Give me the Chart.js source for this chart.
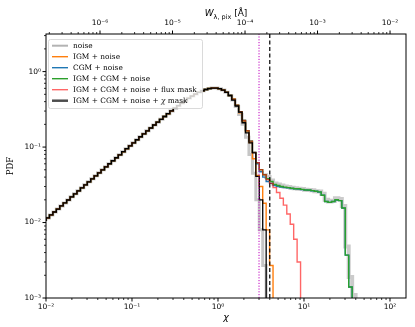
<!DOCTYPE html>
<html>
<head>
<meta charset="utf-8">
<script src="https://cdn.jsdelivr.net/npm/chart.js@4"></script>
<style>
  html, body { margin: 0; padding: 0; background: #fff; }
</style>
</head>
<body>
<canvas id="pdfChart" width="415" height="327"></canvas>
<script>
// histogram bins in log10(chi): first edge and width
var logChiStart = -2;
var logChiStep = 0.04;

// bins 0..54, common to every curve
var pdfCore = [
    0.0105, 0.0115, 0.0126, 0.0138, 0.0151, 0.0166, 0.0182, 0.0199, 0.0219, 0.0240,
    0.0263, 0.0288, 0.0316, 0.0346, 0.0379, 0.0416, 0.0456, 0.0500, 0.0548, 0.0601,
    0.0659, 0.0722, 0.0790, 0.0868, 0.0951, 0.104, 0.114, 0.125, 0.137, 0.150,
    0.164, 0.179, 0.196, 0.214, 0.233, 0.254, 0.277, 0.301, 0.327, 0.354,
    0.382, 0.412, 0.442, 0.473, 0.502, 0.531, 0.558, 0.579, 0.596, 0.605,
    0.605, 0.594, 0.570, 0.532, 0.482
];

// tails, starting at bin 55
var noiseTail = [0.42, 0.345, 0.27, 0.20, 0.135, 0.08, 0.045, 0.020, 0.008, 0.0027, 0];
var igmTail = [0.43, 0.355, 0.285, 0.22, 0.16, 0.115, 0.07, 0.042, 0.03, 0.018, 0.008, 0.0027, 0];
var cgmTail = [0.425, 0.355, 0.29, 0.225, 0.165, 0.12, 0.085, 0.06, 0.047, 0.04,
    0.035, 0.033, 0.031, 0.030, 0.0295, 0.029, 0.0288, 0.0283, 0.028, 0.0278,
    0.0273, 0.027, 0.0268, 0.0263, 0.026, 0.0253, 0.023, 0.019, 0.0185, 0.019,
    0.0198, 0.0195, 0.0155, 0.0037, 0.0014, 0];
var igmCgmTail = [0.43, 0.36, 0.295, 0.225, 0.165, 0.12, 0.085, 0.062, 0.05, 0.043,
    0.038, 0.035, 0.032, 0.031, 0.030, 0.0295, 0.029, 0.0285, 0.028, 0.028,
    0.0275, 0.027, 0.027, 0.0265, 0.026, 0.0255, 0.023, 0.019, 0.0185, 0.019,
    0.020, 0.0195, 0.0156, 0.0037, 0.0014, 0];
var fluxMaskTail = [0.43, 0.36, 0.295, 0.225, 0.165, 0.12, 0.085, 0.062, 0.05, 0.043,
    0.037, 0.033, 0.029, 0.025, 0.021, 0.017, 0.013, 0.0095, 0.006, 0.003, 0];
var chiMaskTail = [0.42, 0.35, 0.29, 0.21, 0.154, 0.114, 0.084, 0.041, 0.020, 0.008, 0];

// grey band under the plateau, starting at bin 64
var bandStartBin = 64;
var bandValues = [0.045, 0.04, 0.036, 0.033, 0.032, 0.031, 0.030, 0.0295, 0.029, 0.0285,
    0.028, 0.0278, 0.0272, 0.027, 0.0268, 0.026, 0.0258, 0.024, 0.02, 0.019,
    0.0195, 0.021, 0.0205, 0.0165, 0.0048, 0.0019, 0.0011, 0];

// vertical markers
var chiDotted = 3;
var chiDashed = 4;

// axis ranges and ticks
var chiRange = [0.01, 153.5];
var wRange = [1.8e-7, 0.0166];
var pdfRange = [1e-3, 3.15];
var chiTicks = [0.01, 0.1, 1, 10, 100];
var chiTickLabels = ['10\u207B\u00B2', '10\u207B\u00B9', '10\u2070', '10\u00B9', '10\u00B2'];
var wTicks = [1e-6, 1e-5, 1e-4, 1e-3, 1e-2];
var wTickLabels = ['10\u207B\u2076', '10\u207B\u2075', '10\u207B\u2074', '10\u207B\u00B3', '10\u207B\u00B2'];
var pdfTicks = [1e-3, 1e-2, 1e-1, 1];
var pdfTickLabels = ['10\u207B\u00B3', '10\u207B\u00B2', '10\u207B\u00B9', '10\u2070'];

var binEdge = function (k) {
    return Math.pow(10, logChiStart + logChiStep * k);
};

var histPoints = function (values, firstBin) {
    return values.map(function (v, i) {
        return { x: binEdge(firstBin + i), y: v > 0 ? v : 1e-6 };
    });
};

var labelFor = function (ticks, labels) {
    return function (value) {
        for (var i = 0; i < ticks.length; i++) {
            if (Math.abs(Math.log10(value) - Math.log10(ticks[i])) < 1e-6) return labels[i];
        }
        return '';
    };
};

// 1..9 x 10^n inside the axis range, like matplotlib's log locator
var logTicks = function (scale) {
    var out = [];
    var lo = Math.floor(Math.log10(scale.min));
    var hi = Math.ceil(Math.log10(scale.max));
    for (var e = lo; e <= hi; e++) {
        for (var s = 1; s <= 9; s++) {
            var v = s * Math.pow(10, e);
            if (v >= scale.min * 0.999999 && v <= scale.max * 1.000001) {
                out.push({ value: v, major: s === 1 });
            }
        }
    }
    scale.ticks = out;
};

var stepLine = function (label, values, color, width, order, legendColor, legendWidth) {
    return {
        label: label,
        data: histPoints(values, 0),
        borderColor: color,
        borderWidth: width,
        stepped: 'after',
        order: order,
        inLegend: true,
        legendColor: legendColor || color,
        legendWidth: legendWidth || width
    };
};

var datasets = [
    stepLine('noise', pdfCore.concat(noiseTail), 'rgba(128,128,128,0.45)', 3, 6, 'rgba(128,128,128,0.6)', 2),
    stepLine('IGM + noise', pdfCore.concat(igmTail), '#ff7f0e', 1.4, 4),
    stepLine('CGM + noise', pdfCore.concat(cgmTail), '#1f77b4', 1.4, 3),
    stepLine('IGM + CGM + noise', pdfCore.concat(igmCgmTail), '#2ca02c', 1.4, 2),
    stepLine('IGM + CGM + noise + flux mask', pdfCore.concat(fluxMaskTail), 'rgba(255,0,0,0.6)', 1.4, 1),
    stepLine('IGM + CGM + noise + \u03C7 mask', pdfCore.concat(chiMaskTail), '#000000', 1.3, 0, 'rgba(0,0,0,0.7)', 2.5),
    {
        label: 'band',
        data: histPoints(bandValues, bandStartBin),
        borderColor: 'rgba(140,140,140,0.45)',
        borderWidth: 4,
        stepped: 'after',
        order: 5
    },
    {
        label: 'chi3',
        data: [{ x: chiDotted, y: pdfRange[0] }, { x: chiDotted, y: pdfRange[1] }],
        borderColor: '#bf00bf',
        borderWidth: 1,
        borderDash: [1.2, 1.6],
        order: -1
    },
    {
        label: 'chi4',
        data: [{ x: chiDashed, y: pdfRange[0] }, { x: chiDashed, y: pdfRange[1] }],
        borderColor: '#000000',
        borderWidth: 1.2,
        borderDash: [4, 2.5],
        order: -1
    }
];

// legend inside the plot, drawn above the curves; frame, ticks and top title
var decorPlugin = {
    id: 'decor',
    afterDatasetsDraw: function (chart) {
        var ctx = chart.ctx;
        var box = { x: 48, y: 39, w: 154, h: 69 };
        ctx.save();
        ctx.beginPath();
        ctx.roundRect(box.x + 0.5, box.y + 0.5, box.w, box.h, 2);
        ctx.fillStyle = 'rgba(255,255,255,0.8)';
        ctx.fill();
        ctx.strokeStyle = '#d0d0d0';
        ctx.lineWidth = 0.8;
        ctx.stroke();

        var items = chart.data.datasets.filter(function (d) { return d.inLegend; });
        items.forEach(function (d, i) {
            var y = box.y + 6.7 + i * 11;
            ctx.beginPath();
            ctx.moveTo(52, y);
            ctx.lineTo(68, y);
            ctx.strokeStyle = d.legendColor;
            ctx.lineWidth = d.legendWidth;
            ctx.stroke();

            ctx.fillStyle = '#000';
            ctx.textBaseline = 'middle';
            var parts = d.label.split('\u03C7');
            var x = 73;
            parts.forEach(function (p, j) {
                if (j > 0) {
                    ctx.font = 'italic 7.4px "DejaVu Serif"';
                    ctx.fillText('\u03C7', x, y);
                    x += ctx.measureText('\u03C7').width;
                }
                ctx.font = '7.4px "DejaVu Serif"';
                ctx.fillText(p, x, y);
                x += ctx.measureText(p).width;
            });
        });
        ctx.restore();
    },
    afterDraw: function (chart) {
        var ctx = chart.ctx;
        var a = chart.chartArea;
        ctx.save();
        ctx.strokeStyle = '#000';
        ctx.lineWidth = 1;
        ctx.strokeRect(a.left, a.top, a.right - a.left, a.bottom - a.top);

        // tick marks, outward, major longer than minor
        ['x', 'x2', 'y'].forEach(function (id) {
            var scale = chart.scales[id];
            scale.ticks.forEach(function (t) {
                var len = t.major ? 3.5 : 2;
                var p = scale.getPixelForValue(t.value);
                ctx.beginPath();
                ctx.lineWidth = t.major ? 1 : 0.8;
                if (id === 'x') { ctx.moveTo(p, a.bottom); ctx.lineTo(p, a.bottom + len); }
                else if (id === 'x2') { ctx.moveTo(p, a.top); ctx.lineTo(p, a.top - len); }
                else { ctx.moveTo(a.left, p); ctx.lineTo(a.left - len, p); }
                ctx.stroke();
            });
        });

        // top axis title with subscript
        var cx = (a.left + a.right) / 2;
        var by = 16;
        var parts = [
            { t: 'W', f: 'italic 9px "DejaVu Sans"', dy: 0 },
            { t: '\u03BB, pix', f: '6.5px "DejaVu Sans"', dy: 2.5 },
            { t: ' [\u00C5]', f: '9px "DejaVu Sans"', dy: 0 }
        ];
        var total = 0;
        parts.forEach(function (p) { ctx.font = p.f; total += ctx.measureText(p.t).width; });
        var x = cx - total / 2;
        ctx.fillStyle = '#000';
        ctx.textBaseline = 'alphabetic';
        parts.forEach(function (p) {
            ctx.font = p.f;
            ctx.fillText(p.t, x, by + p.dy);
            x += ctx.measureText(p.t).width;
        });
        ctx.restore();
    }
};

var tickFont = { family: 'DejaVu Sans', size: 7.5 };
var noGrid = { display: false, drawTicks: false };

new Chart(document.getElementById('pdfChart'), {
    type: 'line',
    data: { datasets: datasets },
    options: {
        responsive: false,
        animation: false,
        layout: { padding: { left: 0, right: 9, top: 0, bottom: 0 } },
        elements: { point: { radius: 0 } },
        plugins: {
            legend: { display: false },
            tooltip: { enabled: false }
        },
        scales: {
            x: {
                type: 'logarithmic',
                position: 'bottom',
                min: chiRange[0],
                max: chiRange[1],
                grid: noGrid,
                border: { display: false },
                afterBuildTicks: logTicks,
                ticks: { autoSkip: false, maxRotation: 0, padding: 5, color: '#000', font: tickFont,
                    callback: labelFor(chiTicks, chiTickLabels) },
                title: { display: true, text: '\u03C7', color: '#000', padding: { top: 0, bottom: 4 },
                    font: { family: 'DejaVu Sans', style: 'italic', size: 9.5 } },
                afterFit: function (s) { s.height = 29; }
            },
            x2: {
                type: 'logarithmic',
                position: 'top',
                min: wRange[0],
                max: wRange[1],
                grid: noGrid,
                border: { display: false },
                afterBuildTicks: logTicks,
                ticks: { autoSkip: false, maxRotation: 0, padding: 6, color: '#000', font: tickFont,
                    callback: labelFor(wTicks, wTickLabels) },
                afterFit: function (s) { s.height = 34; }
            },
            y: {
                type: 'logarithmic',
                min: pdfRange[0],
                max: pdfRange[1],
                grid: noGrid,
                border: { display: false },
                afterBuildTicks: logTicks,
                ticks: { autoSkip: false, padding: 5, color: '#000', font: tickFont,
                    callback: labelFor(pdfTicks, pdfTickLabels) },
                title: { display: true, text: 'PDF', color: '#000', padding: { top: 6, bottom: 0 },
                    font: { family: 'DejaVu Serif', size: 8.5 } },
                afterFit: function (s) { s.width = 46; }
            }
        }
    },
    plugins: [decorPlugin]
});
</script>
</body>
</html>
